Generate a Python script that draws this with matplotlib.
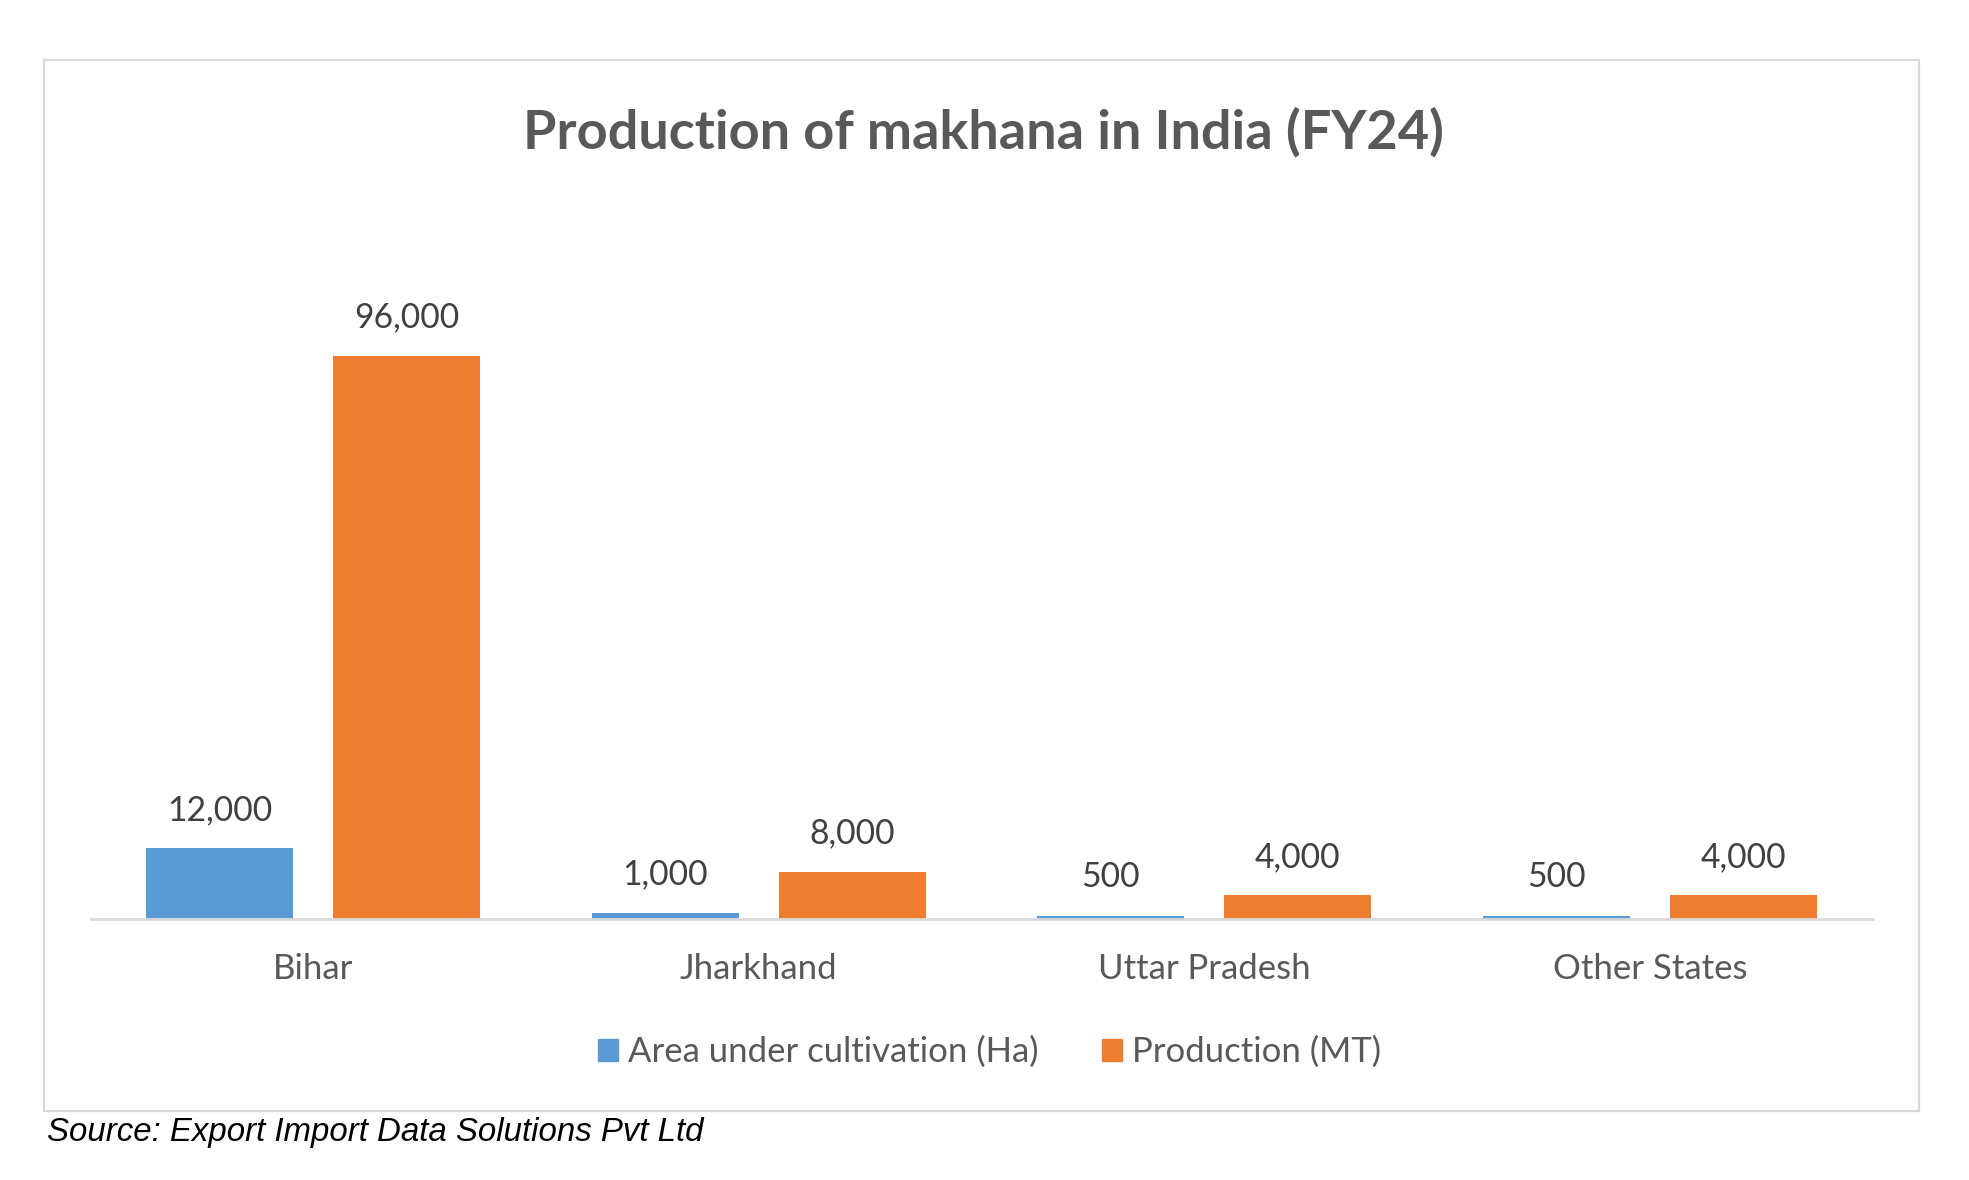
import matplotlib.pyplot as plt
import numpy as np
from matplotlib.patches import Rectangle, Patch

# Data
states = ["Bihar", "Jharkhand", "Uttar Pradesh", "Other States"]
area_ha = [12000, 1000, 500, 500]
production_mt = [96000, 8000, 4000, 4000]
series_names = ["Area under cultivation (Ha)", "Production (MT)"]

BLUE = "#5B9BD5"
ORANGE = "#ED7D31"
TEXT = "#595959"
LABEL = "#404040"
GRID = "#D9D9D9"

plt.rcParams['font.family'] = ['Lato', 'DejaVu Sans']

W, H = 1969, 1180
fig = plt.figure(figsize=(W / 100, H / 100), dpi=100)

# outer chart border
fig.patches.append(Rectangle((44 / W, 1 - 1111 / H), (1919 - 44) / W, (1111 - 60) / H,
                             transform=fig.transFigure, fill=False,
                             edgecolor=GRID, linewidth=1.6))

ax = fig.add_axes([90.5 / W, 1 - 918.6 / H, (1872.5 - 90.5) / W, 703.8 / H])

x = np.arange(len(states))
bw = 0.33
off = 0.21
b1 = ax.bar(x - off, area_ha, bw, color=BLUE, label=series_names[0])
b2 = ax.bar(x + off, production_mt, bw, color=ORANGE, label=series_names[1])

for bars, vals in [(b1, area_ha), (b2, production_mt)]:
    for rect, v in zip(bars, vals):
        ax.annotate(f"{v:,}", (rect.get_x() + rect.get_width() / 2, v),
                    xytext=(0, 27.5), textcoords="offset points",
                    ha="center", va="center", fontsize=24.2, color=LABEL)

ax.set_xlim(-0.5, len(states) - 0.5)
ax.set_ylim(0, 120000)
ax.set_yticks([])
ax.set_xticks(x)
ax.set_xticklabels(states, fontsize=25, color=TEXT)
ax.tick_params(axis="x", length=0, pad=25)
for s in ["top", "right", "left"]:
    ax.spines[s].set_visible(False)
ax.spines["bottom"].set_color(GRID)
ax.spines["bottom"].set_linewidth(2)

fig.text(0.4995, 1 - 132 / H, "Production of makhana in India (FY24)",
         ha="center", va="center", fontsize=39, fontweight="bold", color=TEXT)

handles = [Patch(color=BLUE), Patch(color=ORANGE)]
fig.legend(handles, series_names, loc="center", bbox_to_anchor=(0.5026, 1 - 1052 / H),
           ncol=2, frameon=False, fontsize=25, labelcolor=TEXT,
           handlelength=0.58, handleheight=0.58, handletextpad=0.3, columnspacing=1.8)

fig.text(46.5 / W, 1 - 1133 / H, "Source: Export Import Data Solutions Pvt Ltd",
         ha="left", va="center", fontsize=23.8, style="italic", color="black",
         family=["Liberation Sans", "DejaVu Sans"])

fig.savefig("out.png", dpi=100)
